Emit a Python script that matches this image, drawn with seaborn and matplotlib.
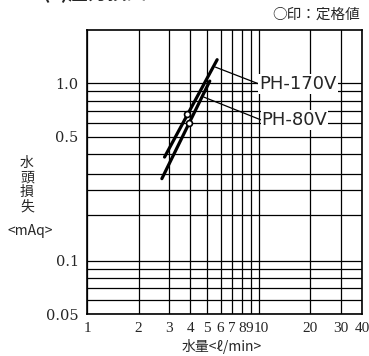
import numpy as np
import pandas as pd
import matplotlib
matplotlib.use("Agg")
import matplotlib.pyplot as plt
import matplotlib.transforms as mtransforms
import seaborn as sns
from matplotlib.ticker import FixedLocator, NullFormatter

# 定格値の読み取り (流量 l/min, 水頭損失 mAq)
models = ["PH-170V", "PH-80V"]
flow_170 = [2.83, 5.73]
loss_170 = [0.384, 1.36]
flow_80 = [2.73, 5.19]
loss_80 = [0.290, 1.03]
rated_flow = [3.83, 3.91]
rated_loss = [0.675, 0.598]

x_ticks = [1, 2, 3, 4, 5, 6, 7, 8, 9, 10, 20, 30, 40]
x_ticklabels = ["1", "2", "3", "4", "5", "6", "7", "8", "9", "10", "20", "30", "40"]
y_ticks = [0.05, 0.1, 0.5, 1.0]
y_ticklabels = ["0.05", "0.1", "0.5", "1.0"]
y_grid = [0.06, 0.07, 0.08, 0.09, 0.18, 0.25, 0.31, 0.4, 0.6, 0.7, 0.8, 0.9]

# ラベルの位置と引き出し線の先
label_xy = {"PH-170V": (10.1, 0.99), "PH-80V": (10.4, 0.62)}
leader_xy = {"PH-170V": (5.6, 1.235), "PH-80V": (4.79, 0.837)}

sns.set_style("white")
plt.rcParams["font.family"] = ["Noto Sans CJK JP", "DejaVu Sans"]

df = pd.DataFrame({
    "flow": flow_170 + flow_80,
    "loss": loss_170 + loss_80,
    "model": [models[0]] * len(flow_170) + [models[1]] * len(flow_80),
})

fig = plt.figure(figsize=(3.69, 3.56), dpi=100)
ax = fig.add_axes([87 / 369, 42 / 356, 275 / 369, 284 / 356])

sns.lineplot(data=df, x="flow", y="loss", hue="model", units="model", estimator=None,
             palette=["black", "black"], linewidth=2.3, legend=False, ax=ax, zorder=5)
sns.scatterplot(x=rated_flow, y=rated_loss, marker="o", s=18, facecolor="white",
                edgecolor="black", linewidth=1.2, ax=ax, zorder=6)

ax.set_xscale("log")
ax.set_yscale("log")
ax.set_xlim(1, 40)
ax.set_ylim(0.05, 2.0)

ax.xaxis.set_major_locator(FixedLocator(x_ticks))
ax.set_xticklabels(x_ticklabels)
ax.xaxis.set_minor_formatter(NullFormatter())
ax.xaxis.set_minor_locator(FixedLocator([]))
ax.yaxis.set_major_locator(FixedLocator(y_ticks))
ax.set_yticklabels(y_ticklabels)
ax.yaxis.set_minor_locator(FixedLocator(y_grid))
ax.yaxis.set_minor_formatter(NullFormatter())

ax.tick_params(axis="both", which="major", direction="out", length=5, width=1,
               color="black", pad=1)
ax.tick_params(axis="y", which="minor", length=0)
for lbl in ax.get_yticklabels():
    lbl.set_family("DejaVu Serif")
    lbl.set_fontsize(10.5)
for lbl in ax.get_xticklabels():
    lbl.set_family("Liberation Serif")
    lbl.set_fontsize(11)
# 9 と 10 が重ならないよう少しずらす
ax.get_xticklabels()[8].set_transform(
    ax.get_xticklabels()[8].get_transform()
    + mtransforms.ScaledTranslation(-1.0 / 100, 0, fig.dpi_scale_trans))
ax.get_xticklabels()[9].set_transform(
    ax.get_xticklabels()[9].get_transform()
    + mtransforms.ScaledTranslation(2.5 / 100, 0, fig.dpi_scale_trans))

ax.grid(True, which="both", color="black", linewidth=0.9)
for sp in ax.spines.values():
    sp.set_color("black")
    sp.set_linewidth(1.2)
ax.set_xlabel("")
ax.set_ylabel("")

for m in models:
    ax.annotate(m, xy=leader_xy[m], xytext=label_xy[m], ha="left", va="center",
                fontsize=13, family="DejaVu Sans",
                bbox=dict(boxstyle="square,pad=0.05", fc="white", ec="none"),
                arrowprops=dict(arrowstyle="-", color="black", lw=0.9,
                                relpos=(0, 0.5), shrinkA=0, shrinkB=0),
                zorder=7)

fig.text(27 / 369, 1 - 185 / 356, "水\n頭\n損\n失", ha="center", va="center",
         fontsize=10, linespacing=1.05)
fig.text(30 / 369, 1 - 231 / 356, "<mAq>", ha="center", va="center", fontsize=10)
fig.text(222 / 369, 1 - 346 / 356, "水量<ℓ/min>", ha="center", va="center", fontsize=10)
fig.text(360 / 369, 1 - 15 / 356, "○印：定格値", ha="right", va="center", fontsize=10.5)
fig.text(42 / 369, 1.022, "(3)圧力損失", ha="left", va="center", fontsize=14,
         fontweight="bold")

fig.savefig("out.png", dpi=100)
